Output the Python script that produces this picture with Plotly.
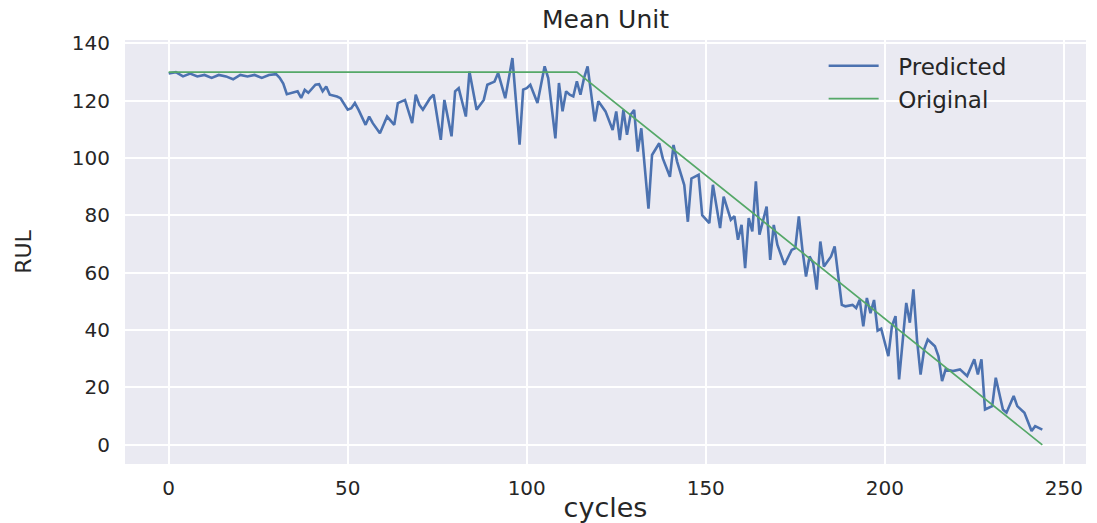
import plotly.graph_objects as go

# Predicted RUL: cycle index and predicted value at each plotted vertex
pred_cycles = [
    0, 2, 4, 6, 8, 10, 12, 14, 16, 18, 20, 22, 24, 26, 28, 30, 31, 32, 33, 35,
    36, 37, 38, 39, 41, 42, 43, 44, 45, 47, 48, 50, 51, 52, 53, 55, 56, 57, 59, 61,
    63, 64, 66, 68, 69, 70, 71, 73, 74, 76, 77, 79, 80, 81, 83, 84, 86, 88, 89, 91,
    92, 94, 96, 98, 99, 100, 101, 103, 104, 105, 106, 108, 109, 110, 111, 112, 113, 114, 115, 116,
    117, 118, 119, 120, 121, 122, 124, 125, 126, 127, 128, 129, 130, 131, 132, 134, 135, 137, 138, 140,
    141, 142, 144, 145, 146, 147, 148, 149, 151, 152, 154, 155, 157, 158, 159, 160, 161, 162, 163, 164,
    165, 167, 168, 169, 170, 172, 174, 175, 176, 177, 178, 179, 180, 181, 182, 183, 185, 186, 188, 189,
    191, 192, 193, 194, 195, 196, 197, 198, 199, 201, 202, 203, 204, 206, 207, 208, 209, 210, 211, 212,
    214, 215, 216, 217, 219, 221, 223, 225, 226, 227, 228, 230, 231, 233, 234, 236, 237, 239, 240, 241,
    242, 244,
]
pred_rul = [
    129.5, 130.0, 128.5, 129.5, 128.5, 129.0, 128.0, 129.0, 128.5, 127.5, 129.0, 128.5, 129.0, 128.0, 129.0, 129.3, 128.0, 126.0, 122.3, 122.8,
    123.3, 121.0, 123.8, 122.8, 125.6, 125.8, 123.3, 125.0, 122.1, 121.5, 120.9, 116.9, 117.4, 119.2, 116.9, 111.6, 114.5, 112.2, 108.7, 114.5,
    111.6, 119.2, 120.3, 112.2, 122.1, 118.6, 116.9, 120.9, 122.1, 106.4, 120.3, 107.6, 123.3, 124.4, 114.5, 130.2, 116.9, 120.3, 125.6, 126.7,
    129.7, 120.9, 134.9, 104.7, 123.9, 124.4, 125.6, 119.2, 125.6, 132.0, 127.9, 106.9, 126.2, 116.3, 123.3, 122.1, 121.5, 126.8, 122.1, 127.9,
    132.0, 122.1, 112.8, 119.8, 118.0, 116.3, 109.8, 116.3, 106.3, 116.8, 108.1, 115.1, 116.8, 102.3, 110.4, 82.4, 101.1, 105.2, 99.9, 93.5,
    104.6, 98.8, 90.6, 77.8, 92.9, 93.5, 94.2, 80.1, 77.3, 90.7, 75.6, 86.6, 78.5, 79.7, 71.5, 76.7, 61.6, 79.1, 74.4, 91.9,
    73.3, 83.1, 64.5, 76.7, 69.8, 62.8, 68.0, 68.6, 79.7, 68.0, 58.7, 65.7, 63.4, 54.1, 70.9, 62.2, 65.7, 69.2, 48.8, 48.3,
    48.8, 47.7, 50.6, 41.3, 51.2, 45.9, 50.5, 39.8, 40.5, 30.9, 41.4, 44.9, 22.8, 49.5, 42.6, 54.2, 36.7, 24.5, 33.3, 36.7,
    34.4, 30.9, 22.2, 26.3, 25.7, 26.3, 24.0, 29.8, 24.5, 29.8, 12.3, 13.5, 23.4, 12.3, 11.2, 17.0, 13.5, 11.2, 7.7, 4.8,
    6.5, 5.3,
]

# Original (true) RUL: constant cap, then linear decline to zero
orig_cycles = [0, 114, 244]
orig_rul = [130, 130, 0]

x_ticks = [0, 50, 100, 150, 200, 250]
y_ticks = [0, 20, 40, 60, 80, 100, 120, 140]

FONT = "DejaVu Sans, Verdana, sans-serif"
TEXT = "#262626"
PAD = "\u00a0\u00a0"  # small gap between legend handle and label

fig = go.Figure()
fig.add_trace(go.Scatter(
    x=pred_cycles, y=pred_rul, mode="lines", name=PAD + "Predicted",
    line=dict(color="#4C72B0", width=2.6),
))
fig.add_trace(go.Scatter(
    x=orig_cycles, y=orig_rul, mode="lines", name=PAD + "Original",
    line=dict(color="#55A868", width=1.7),
))

fig.update_layout(
    width=1097, height=523,
    margin=dict(l=125, r=11, t=40, b=59),
    paper_bgcolor="white",
    plot_bgcolor="#EAEAF2",
    font=dict(family=FONT, color=TEXT, size=20),
    title=dict(text="Mean Unit", x=0.5, xanchor="center", y=0.963, yanchor="middle",
               xref="paper", font=dict(size=25, color=TEXT)),
    showlegend=True,
    legend=dict(x=0.727, y=0.99, xanchor="left", yanchor="top",
                bgcolor="rgba(0,0,0,0)", font=dict(size=23, color=TEXT),
                itemwidth=50, tracegroupgap=0),
)
fig.update_xaxes(
    range=[-12.2, 256.2], tickvals=x_ticks, ticktext=[str(v) for v in x_ticks],
    showgrid=True, gridcolor="white", gridwidth=1.6, zeroline=False, showline=False,
    ticks="", ticklabelstandoff=10, automargin=False,
    title=dict(text="cycles", font=dict(size=27, color=TEXT), standoff=4),
)
fig.update_yaxes(
    range=[-6.7, 141.2], tickvals=y_ticks, ticktext=[str(v) for v in y_ticks],
    showgrid=True, gridcolor="white", gridwidth=1.6, zeroline=False, showline=False,
    ticks="", ticklabelstandoff=14, automargin=False,
    title=dict(text="RUL", font=dict(size=22, color=TEXT), standoff=34),
)

fig.write_html("out.html")
